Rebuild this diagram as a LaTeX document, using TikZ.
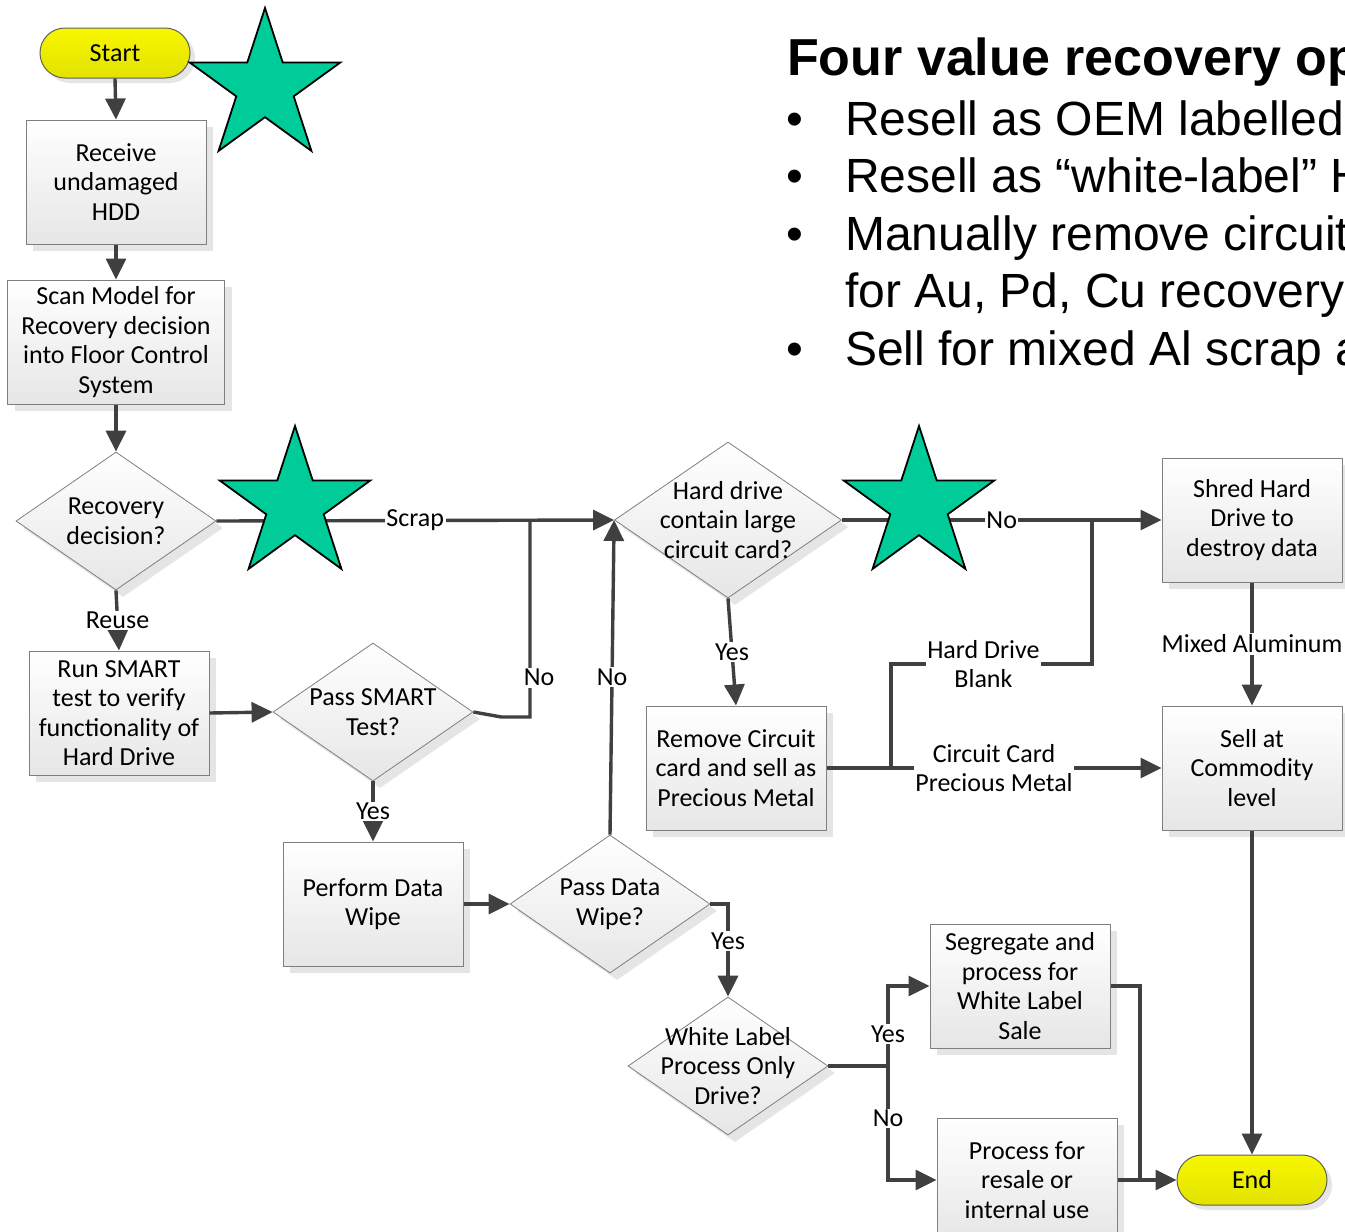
\documentclass[tikz,border=0pt]{standalone}
\usepackage{fontspec}
\setmainfont{Carlito}
\newfontfamily\slidefont{Liberation Sans}
\usetikzlibrary{arrows.meta,shapes.geometric,shadows}
\definecolor{lineGray}{HTML}{404040}
\definecolor{boxEdge}{HTML}{7F7F7F}
\definecolor{boxLow}{HTML}{E6E6E6}
\definecolor{termEdge}{HTML}{5F5F5F}
\definecolor{termTop}{HTML}{F7F700}
\definecolor{termLow}{HTML}{E2E200}
\definecolor{starGreen}{HTML}{00CC99}
\newcommand{\boxFont}{\fontsize{26}{29.5}\selectfont}
\newcommand{\headFont}{\slidefont\bfseries\fontsize{52}{57}\selectfont}
\newcommand{\pointFont}{\slidefont\fontsize{48}{57}\selectfont}
\newcommand{\pointCell}[1]{\makebox[59pt][l]{#1}}
\tikzset{
  procbox/.style={rectangle, draw=boxEdge, line width=1pt, top color=white, bottom color=boxLow, minimum width=180pt, minimum height=124pt, inner sep=0pt, align=center, font=\boxFont, drop shadow={shadow xshift=7pt, shadow yshift=-7pt, fill=black!10, opacity=1}},
  decision/.style={diamond, draw=boxEdge, line width=0.8pt, top color=white, bottom color=boxLow, minimum width=200pt, minimum height=138pt, inner sep=0pt, drop shadow={shadow xshift=7pt, shadow yshift=-7pt, fill=black!10, opacity=1}},
  dtext/.style={align=center, font=\boxFont, inner sep=0pt},
  terminal/.style={rectangle, rounded corners=25pt, draw=termEdge, line width=1pt, top color=termTop, bottom color=termLow, minimum width=150pt, minimum height=50pt, font=\boxFont, drop shadow={shadow xshift=5pt, shadow yshift=-5pt, fill=black!10, opacity=1}},
  conn/.style={draw=lineGray, line width=3.4pt, -{Triangle[length=21pt,width=20pt]}},
  link/.style={draw=lineGray, line width=3.4pt},
  lbl/.style={fill=white, inner sep=1.5pt, align=center, font=\boxFont},
  greenstar/.style={star, star points=5, star point ratio=2.618, minimum size=158pt, inner sep=0pt, draw=black, line width=1.8pt, fill=starGreen}
}
\begin{document}
\begin{tikzpicture}[x=1pt,y=-1pt]
\useasboundingbox (0,0) rectangle (1345,1232);
\clip (0,0) rectangle (1345,1232);
\fill[white] (0,0) rectangle (1345,1232);
\node[anchor=base west, inner sep=0pt] (title) at (787,75) {\headFont Four value recovery op};
\node[anchor=base west, inner sep=0pt] (pt1) at (786,135) {\pointFont\pointCell{•}Resell as OEM labelled};
\node[anchor=base west, inner sep=0pt] (pt2) at (786,192) {\pointFont\pointCell{•}Resell as “white-label” H};
\node[anchor=base west, inner sep=0pt] (pt3) at (786,250) {\pointFont\pointCell{•}Manually remove circuit};
\node[anchor=base west, inner sep=0pt] (pt4) at (786,307) {\pointFont\pointCell{}for Au, Pd, Cu recovery};
\node[anchor=base west, inner sep=0pt] (pt5) at (786,365) {\pointFont\pointCell{•}Sell for mixed Al scrap a};
\node[terminal] (start) at (115,53) {Start};
\node[procbox] (recv) at (116,182) {Receive\\undamaged\\HDD};
\node[procbox, minimum width=217pt] (scan) at (116,342) {Scan Model for\\Recovery decision\\into Floor Control\\System};
\node[decision, label={[dtext]center:Recovery\\decision?}] (rec) at (116,521) {};
\node[procbox] (run) at (119,713) {Run SMART\\test to verify\\functionality of\\Hard Drive};
\node[decision, label={[dtext]center:Pass SMART\\Test?}] (smart) at (373,712) {};
\node[procbox] (wipe) at (373,904) {Perform Data\\Wipe};
\node[decision, label={[dtext]center:Pass Data\\Wipe?}] (pdw) at (610,904) {};
\node[decision, minimum width=227pt, minimum height=156pt, label={[dtext]center:Hard drive\\contain large\\circuit card?}] (hdc) at (728,520) {};
\node[procbox] (rem) at (736,768) {Remove Circuit\\card and sell as\\Precious Metal};
\node[procbox] (shred) at (1252,520) {Shred Hard\\Drive to\\destroy data};
\node[procbox] (sell) at (1252,768) {Sell at\\Commodity\\level};
\node[decision, label={[dtext]center:White Label\\Process Only\\Drive?}] (wl) at (728,1066) {};
\node[procbox] (seg) at (1020,986) {Segregate and\\process for\\White Label\\Sale};
\node[procbox] (proc) at (1027,1180) {Process for\\resale or\\internal use};
\node[terminal] (end) at (1252,1180) {End};
\coordinate (sj) at (530,520);
\coordinate (cj) at (891,768);
\coordinate (bk) at (1092,664);
\coordinate (bj) at (1092,520);
\coordinate (wj) at (888,1066);
\coordinate (ej) at (1140,1180);
\draw[conn] (start.south) -- (recv.north);
\draw[conn] (recv.south) -- (scan.north);
\draw[conn] (scan.south) -- (rec.north);
\draw[conn] (rec.east) -- node[lbl]{Scrap} (hdc.west);
\draw[conn] (rec.south) -- node[lbl]{Reuse} (run.north);
\draw[conn] (run.east) -- (smart.west);
\draw[link] (smart.east) -- ++(28,5) -| node[lbl,pos=0.6,xshift=9pt]{No} (sj);
\draw[conn] (smart.south) -- node[lbl]{Yes} (wipe.north);
\draw[conn] (wipe.east) -- (pdw.west);
\draw[conn] (pdw.north) -- node[lbl]{No} (hdc.west);
\draw[conn] (pdw.east) -| node[lbl,pos=0.7]{Yes} (wl.north);
\draw[conn] (hdc.east) -- node[lbl]{No} (shred.west);
\draw[conn] (hdc.south) -- node[lbl]{Yes} (rem.north);
\draw[conn] (rem.east) -- node[lbl]{Circuit Card\\Precious Metal} (sell.west);
\draw[link] (cj) |- node[lbl,pos=0.73]{Hard Drive\\Blank} (bk) -- (bj);
\draw[conn] (shred.south) -- node[lbl]{Mixed Aluminum} (sell.north);
\draw[conn] (sell.south) -- (end.north);
\draw[link] (wl.east) -- (wj);
\draw[conn] (wj) |- node[lbl,pos=0.2]{Yes} (seg.west);
\draw[conn] (wj) |- node[lbl,pos=0.23]{No} (proc.west);
\draw[link] (seg.east) -| (ej);
\draw[conn] (proc.east) -- (end.west);
\node[greenstar] (star1) at (265,87) {};
\node[greenstar] (star2) at (295,505) {};
\node[greenstar] (star3) at (919,505) {};
\end{tikzpicture}
\end{document}
